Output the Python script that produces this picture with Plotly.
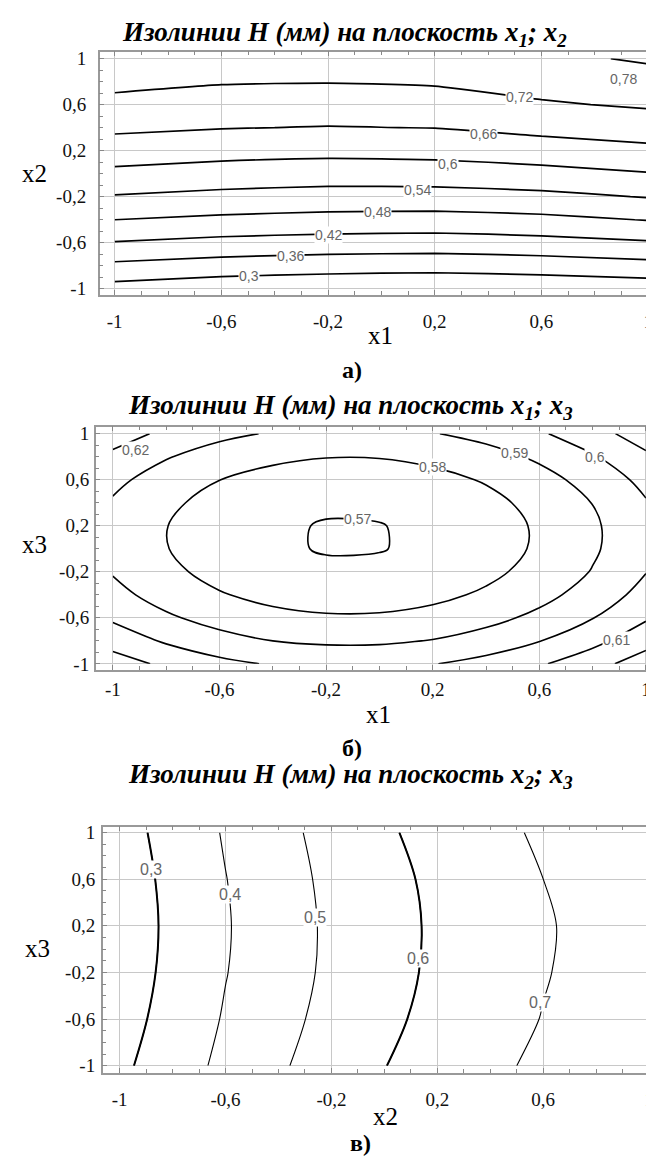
import plotly.graph_objects as go

# ---------------- data ----------------
TICK_VALS = [-1, -0.6, -0.2, 0.2, 0.6, 1]
TICK_TEXT = ["-1", "-0,6", "-0,2", "0,2", "0,6", "1"]

# Panel a: H(x1, x2)
A_X1 = [-1, -0.6, -0.2, 0.2, 0.6, 1]
A_X2 = [-1, -0.8, -0.6, -0.4, -0.2, 0, 0.2, 0.4, 0.6, 0.8, 1]
A_H = [
    [0.278, 0.262, 0.253, 0.247, 0.255, 0.265],
    [0.348, 0.334, 0.326, 0.323, 0.329, 0.341],
    [0.417, 0.403, 0.395, 0.392, 0.400, 0.414],
    [0.480, 0.468, 0.461, 0.458, 0.466, 0.482],
    [0.536, 0.524, 0.517, 0.517, 0.525, 0.543],
    [0.586, 0.575, 0.568, 0.571, 0.581, 0.597],
    [0.631, 0.621, 0.616, 0.619, 0.632, 0.646],
    [0.671, 0.662, 0.658, 0.661, 0.676, 0.689],
    [0.705, 0.694, 0.690, 0.695, 0.714, 0.727],
    [0.734, 0.724, 0.722, 0.726, 0.742, 0.757],
    [0.761, 0.749, 0.746, 0.752, 0.767, 0.787],
]
A_LEVELS = (0.30, 0.78, 0.06)
A_LABELS = [0.78, 0.72, 0.66, 0.6, 0.54, 0.48, 0.42, 0.36, 0.3]

# Panel b: H(x1, x3)
B_X1 = [-1, -0.8, -0.6, -0.4, -0.2, 0, 0.2, 0.4, 0.6, 0.8, 1]
B_X3 = [-1, -0.8, -0.6, -0.4, -0.2, 0, 0.2, 0.4, 0.6, 0.8, 1]
B_H = [
    [0.6149, 0.6079, 0.6026, 0.5991, 0.5975, 0.5976, 0.5996, 0.6033, 0.6088, 0.6162, 0.6253],
    [0.6058, 0.5988, 0.5935, 0.5900, 0.5884, 0.5885, 0.5904, 0.5942, 0.5997, 0.6071, 0.6162],
    [0.5985, 0.5915, 0.5862, 0.5827, 0.5811, 0.5812, 0.5831, 0.5869, 0.5924, 0.5997, 0.6089],
    [0.5930, 0.5860, 0.5807, 0.5772, 0.5756, 0.5757, 0.5776, 0.5814, 0.5869, 0.5942, 0.6034],
    [0.5893, 0.5822, 0.5770, 0.5735, 0.5719, 0.5720, 0.5739, 0.5777, 0.5832, 0.5905, 0.5997],
    [0.5874, 0.5803, 0.5751, 0.5716, 0.5693, 0.5696, 0.5720, 0.5757, 0.5813, 0.5886, 0.5978],
    [0.5873, 0.5802, 0.5750, 0.5715, 0.5694, 0.5697, 0.5719, 0.5756, 0.5812, 0.5885, 0.5976],
    [0.5890, 0.5819, 0.5767, 0.5732, 0.5715, 0.5717, 0.5736, 0.5773, 0.5829, 0.5902, 0.5993],
    [0.5925, 0.5854, 0.5801, 0.5767, 0.5750, 0.5752, 0.5771, 0.5808, 0.5864, 0.5937, 0.6028],
    [0.5978, 0.5907, 0.5854, 0.5820, 0.5803, 0.5804, 0.5824, 0.5861, 0.5917, 0.5990, 0.6081],
    [0.6049, 0.5978, 0.5925, 0.5891, 0.5874, 0.5875, 0.5895, 0.5932, 0.5987, 0.6061, 0.6152],
]
B_LEVELS = (0.57, 0.62, 0.01)
B_LABELS = [0.62, 0.59, 0.58, 0.6, 0.57, 0.61]

# Panel c: H(x2, x3)
C_X2 = [-1, -0.8, -0.6, -0.4, -0.2, 0, 0.2, 0.4, 0.6, 0.8, 1]
C_X3 = [-1, -0.6, -0.2, 0.2, 0.6, 1]
C_H = [
    [0.280, 0.354, 0.423, 0.488, 0.544, 0.598, 0.640, 0.682, 0.718, 0.750, 0.783],
    [0.260, 0.337, 0.408, 0.471, 0.528, 0.581, 0.625, 0.665, 0.703, 0.733, 0.763],
    [0.247, 0.325, 0.397, 0.459, 0.518, 0.570, 0.616, 0.656, 0.695, 0.726, 0.756],
    [0.242, 0.321, 0.393, 0.456, 0.516, 0.567, 0.614, 0.653, 0.692, 0.724, 0.753],
    [0.247, 0.326, 0.398, 0.462, 0.521, 0.573, 0.619, 0.660, 0.700, 0.731, 0.762],
    [0.260, 0.336, 0.408, 0.472, 0.532, 0.587, 0.633, 0.675, 0.714, 0.747, 0.781],
]
C_LEVELS = (0.3, 0.7, 0.1)
C_BOLD_LEVELS = (0.3, 0.6, 0.3)
C_LABELS = [0.3, 0.4, 0.5, 0.6, 0.7]

# ---------------- layout / style ----------------
W, H = 654, 1156
SERIF = "Liberation Serif"

# where the value labels sit on each isoline (data coordinates)
A_LABEL_AT = [(0.906, 0.82), (0.516, 0.664), (0.383, 0.347), (0.25, 0.08),
              (0.134, -0.141), (-0.013, -0.333), (-0.2, -0.534),
              (-0.342, -0.716), (-0.496, -0.888)]
B_LABEL_AT = [(-0.915, 0.857), (0.508, 0.828), (0.2, 0.713), (0.808, 0.8),
              (-0.081, 0.26), (0.891, -0.793)]
C_LABEL_AT = [(-0.882, 0.679), (-0.585, 0.471), (-0.264, 0.275),
              (0.126, -0.081), (0.586, -0.459)]


def px(x):
    return x / W


def py(y):
    return 1 - y / H


def contour(x, y, z, lv, axis, width, smoothing):
    s, e, d = lv
    return go.Contour(
        x=x, y=y, z=z,
        xaxis="x" + axis, yaxis="y" + axis,
        contours=dict(start=s, end=e + d / 10, size=d, coloring="none",
                      showlabels=False),
        line=dict(color="black", width=width, smoothing=smoothing),
        showscale=False, hoverinfo="skip",
    )


fig = go.Figure()
fig.add_trace(contour(A_X1, A_X2, A_H, A_LEVELS, "", 1.7, 0.5))
fig.add_trace(contour(B_X1, B_X3, B_H, B_LEVELS, "2", 1.6, 1.0))
fig.add_trace(contour(C_X2, C_X3, C_H, C_LEVELS, "3", 1.1, 1.0))
fig.add_trace(contour(C_X2, C_X3, C_H, C_BOLD_LEVELS, "3", 2.0, 1.0))


def axis(domain, rng, anchor, standoff):
    return dict(
        domain=domain, range=rng, anchor=anchor,
        tickmode="array", tickvals=TICK_VALS, ticktext=TICK_TEXT,
        ticks="inside", ticklen=5, tickcolor="#888",
        showgrid=True, gridcolor="#c8c8c8", gridwidth=1,
        zeroline=False, showline=True, linecolor="#999", linewidth=1.5,
        mirror="ticks",
        minor=dict(tickmode="linear", tick0=-1, dtick=0.1, ticks="inside",
                   ticklen=4, tickcolor="#888", showgrid=False),
        tickfont=dict(family=SERIF, size=19, color="#111"),
        ticklabelstandoff=standoff,
        ticklabeloverflow="allow",
    )


fig.update_layout(
    width=W, height=H, margin=dict(l=0, r=0, t=0, b=0),
    paper_bgcolor="white", plot_bgcolor="white",
    separators=", ", showlegend=False,
    xaxis=axis([px(92), px(652)], [-1.056, 1.037], "y", 9),
    yaxis=axis([py(285), py(40)], [-1.052, 1.06], "x", 8),
    xaxis2=axis([px(88), px(653)], [-1.064, 1.049], "y2", 2),
    yaxis2=axis([py(663), py(418)], [-1.052, 1.06], "x2", 1),
    xaxis3=axis([px(95), 1.0], [-1.064, 1.041], "y3", 9),
    yaxis3=axis([py(1069), py(821)], [-1.06, 1.051], "x3", 2),
)

TITLE_FONT = dict(family=SERIF, size=27, color="black")
LABEL_FONT = dict(family=SERIF, size=25, color="black")
SUB_FONT = dict(family=SERIF, size=24, color="black")

ann = [
    ("<b><i>Изолинии H (мм) на плоскость x<sub>1</sub>; x<sub>2</sub></i></b>", 338, 22, TITLE_FONT),
    ("<b><i>Изолинии H (мм) на плоскость x<sub>1</sub>; x<sub>3</sub></i></b>", 344, 398, TITLE_FONT),
    ("<b><i>Изолинии H (мм) на плоскость x<sub>2</sub>; x<sub>3</sub></i></b>", 344, 770, TITLE_FONT),
    ("x1", 374, 326, LABEL_FONT),
    ("x1", 372, 708, LABEL_FONT),
    ("x2", 379, 1113, LABEL_FONT),
    ("x2", 27, 163, LABEL_FONT),
    ("x3", 27, 537, LABEL_FONT),
    ("x3", 30, 944, LABEL_FONT),
    ("<b>а)</b>", 345, 361, SUB_FONT),
    ("<b>б)</b>", 345, 742, SUB_FONT),
    ("<b>в)</b>", 354, 1140, SUB_FONT),
]
annotations = [
    dict(text=t, x=px(x), y=py(y), xref="paper", yref="paper",
         xanchor="center", yanchor="middle", showarrow=False, font=f)
    for t, x, y, f in ann
]


def level_text(v):
    return f"{v:g}".replace(".", ",")


for levels, places, ax, size in [(A_LABELS, A_LABEL_AT, "", 14),
                                 (B_LABELS, B_LABEL_AT, "2", 14),
                                 (C_LABELS, C_LABEL_AT, "3", 16)]:
    for v, (x, y) in zip(levels, places):
        annotations.append(dict(
            text=level_text(v), x=x, y=y, xref="x" + ax, yref="y" + ax,
            xanchor="center", yanchor="middle", showarrow=False,
            bgcolor="white", borderpad=0,
            font=dict(family="Liberation Sans", size=size, color="#666")))

fig.update_layout(annotations=annotations)

fig.write_html("out.html")
